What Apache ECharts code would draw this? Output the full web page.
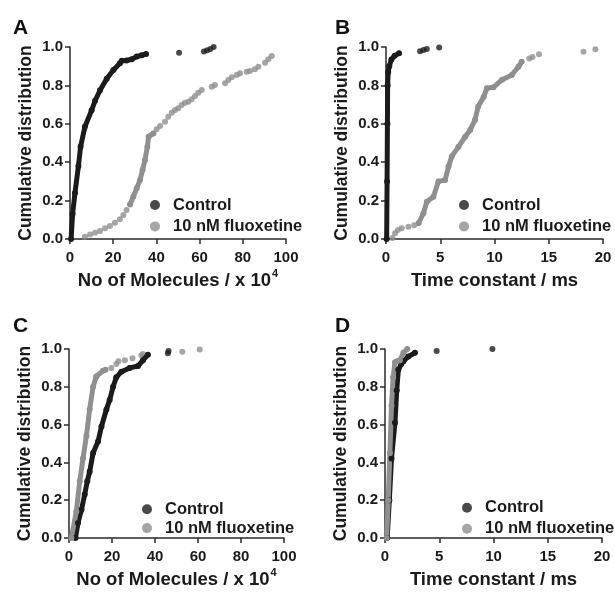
<!DOCTYPE html>
<html>
<head>
<meta charset="utf-8">
<script src="https://cdn.jsdelivr.net/npm/echarts@6/dist/echarts.min.js"></script>
<style>
  html, body { margin: 0; padding: 0; background: #fff; }
  #chart { width: 615px; height: 594px; }
</style>
</head>
<body>
<div id="chart"></div>
<script>
// tick labels
var yTicks = [0, 0.2, 0.4, 0.6, 0.8, 1.0];
var xTicksMolecules = [0, 20, 40, 60, 80, 100];
var xTicksTime = [0, 5, 10, 15, 20];

// A: No of molecules (x 10^4) vs cumulative fraction
var aControlCurve = [[0.5, 0], [1.2, 0.13], [2.3, 0.24], [3.9, 0.38], [4.9, 0.48], [6.9, 0.585], [10, 0.67], [11.6, 0.72], [13.9, 0.775], [17, 0.835], [20.1, 0.88], [23.1, 0.915], [24, 0.928], [26.2, 0.93], [28.6, 0.936], [30.9, 0.95], [33.2, 0.957], [35.2, 0.963]];
var aControlDots = [[50.5, 0.97], [62, 0.976], [63.5, 0.983], [65, 0.99], [66.5, 1.0]];
var aFluoxCurve = [[27.8, 0.18], [29.3, 0.22], [30.9, 0.264], [32.4, 0.307], [33.6, 0.36], [34.7, 0.41], [35.8, 0.48], [36.4, 0.533], [38.6, 0.55]];
var aFluoxDots = [[6.9, 0.012], [9.3, 0.024], [11.6, 0.033], [13.9, 0.042], [16.2, 0.056], [18.5, 0.068], [20.8, 0.085], [23.1, 0.103], [24.7, 0.125], [26.2, 0.151],
  [40.1, 0.571], [41.7, 0.589], [44, 0.611], [45.5, 0.637], [47.1, 0.658], [48.6, 0.672], [50.1, 0.681], [51.7, 0.698], [53.2, 0.71], [54.8, 0.715], [56.3, 0.728], [57.9, 0.745], [59.4, 0.762], [61, 0.776],
  [65.6, 0.793], [67.1, 0.802], [71.8, 0.811], [73.3, 0.828], [74.9, 0.842], [77.2, 0.854], [78.7, 0.863], [81.8, 0.871], [83.3, 0.875], [85.6, 0.884], [87.2, 0.897], [90.3, 0.918], [91.8, 0.936], [93.4, 0.953]];

// B: time constant (ms)
var bControlCurve = [[0.06, 0], [0.1, 0.3], [0.13, 0.6], [0.15, 0.8], [0.2, 0.87], [0.3, 0.9], [0.5, 0.935], [0.8, 0.955], [1.2, 0.967]];
var bControlDots = [[3.14, 0.978], [3.45, 0.985], [3.76, 0.99], [4.9, 0.998]];
var bFluoxCurve = [[3.0, 0.082], [3.45, 0.134], [3.76, 0.194], [4.37, 0.22], [4.83, 0.3], [5.45, 0.307], [5.76, 0.377], [6.06, 0.43], [6.68, 0.48], [7.3, 0.533], [7.76, 0.568], [8.2, 0.62], [8.5, 0.69], [9.0, 0.74], [9.3, 0.785], [9.9, 0.79], [10.7, 0.83], [11.6, 0.854], [12.2, 0.897], [12.5, 0.923]];
var bFluoxDots = [[0.6, 0.005], [0.83, 0.03], [1.1, 0.047], [1.45, 0.056], [2.06, 0.064], [2.6, 0.072], [13.2, 0.94], [13.5, 0.948], [14.1, 0.962], [18.2, 0.975], [19.3, 0.988]];

// C: No of molecules (x 10^4), second set
var cControlCurve = [[3.0, 0], [4.2, 0.08], [5.8, 0.15], [7.3, 0.23], [8.5, 0.3], [9.6, 0.35], [11.2, 0.45], [13.5, 0.51], [15.1, 0.59], [17.4, 0.68], [18.9, 0.73], [20.5, 0.8], [22, 0.85], [24.4, 0.88], [28.2, 0.9], [32.1, 0.91], [34.4, 0.94], [36.7, 0.97]];
var cControlDots = [[46, 0.978], [46.3, 0.99]];
var cFluoxCurve = [[1.1, 0], [3.4, 0.14], [5, 0.3], [6.5, 0.42], [8.1, 0.54], [9.6, 0.68], [11.2, 0.8], [12.7, 0.855], [15.8, 0.885], [17, 0.89]];
var cFluoxDots = [[19.7, 0.9], [22, 0.92], [23, 0.935], [26, 0.94], [29.5, 0.951], [33.7, 0.965], [34.3, 0.974], [52.7, 0.986], [60.8, 0.998]];

// D: time constant (ms), second set
var dControlCurve = [[0.2, 0], [0.4, 0.2], [0.6, 0.42], [0.92, 0.61], [1.08, 0.78], [1.23, 0.89], [1.5, 0.92], [1.7, 0.935], [2.15, 0.96], [2.76, 0.98]];
var dControlDots = [[4.76, 0.99], [9.9, 1.0]];
var dFluoxCurve = [[0.15, 0], [0.3, 0.2], [0.45, 0.45], [0.6, 0.7], [0.75, 0.85], [0.92, 0.93], [1.1, 0.935], [1.38, 0.94], [1.7, 0.98], [2.05, 1.0]];
var dFluoxDots = [];

var seriesNames = ["Control", "10 nM fluoxetine"];
var colors = ["#1b1b1b", "#8f8f8f"];
var fontFam = "Liberation Sans, Arial, sans-serif";

var panels = [
  { letter: "A", letterPos: [13, 18], grid: { left: 70, top: 47, width: 216, height: 192 }, ticks: xTicksMolecules, xName: "No of Molecules / x 10{sup|4}",
    data: [aControlDots, aControlCurve, aFluoxDots, aFluoxCurve], legend: { left: 150, top: 196.5, gap: 4.4 } },
  { letter: "B", letterPos: [335, 18], grid: { left: 386, top: 47, width: 217, height: 192 }, ticks: xTicksTime, xName: "Time constant / ms",
    data: [bControlDots, bControlCurve, bFluoxDots, bFluoxCurve], legend: { left: 459, top: 196.5, gap: 4.4 } },
  { letter: "C", letterPos: [13, 316], grid: { left: 69, top: 349, width: 215, height: 191 }, ticks: xTicksMolecules, xName: "No of Molecules / x 10{sup|4}",
    data: [cControlDots, cControlCurve, cFluoxDots, cFluoxCurve], legend: { left: 142, top: 500.8, gap: 1.8 } },
  { letter: "D", letterPos: [335, 316], grid: { left: 385, top: 349, width: 217, height: 191 }, ticks: xTicksTime, xName: "Time constant / ms",
    data: [dControlDots, dControlCurve, dFluoxDots, dFluoxCurve], legend: { left: 462, top: 499.2, gap: 4 } }
];

var axisLine = { show: true, lineStyle: { color: "#2a2a2a", width: 1.5 } };
var axisTick = { show: true, inside: false, length: 5, lineStyle: { color: "#2a2a2a", width: 1.5 } };

var option = {
  animation: false,
  backgroundColor: "#fff",
  textStyle: { fontFamily: fontFam },
  title: [],
  grid: [],
  xAxis: [],
  yAxis: [],
  legend: [],
  series: []
};

panels.forEach(function(p, i) {
  option.title.push({
    text: p.letter,
    left: p.letterPos[0],
    top: p.letterPos[1],
    padding: 0,
    textStyle: { fontFamily: fontFam, fontSize: 21, fontWeight: "bold", color: "#111" }
  });
  option.grid.push(p.grid);
  var t = p.ticks;
  option.xAxis.push({
    gridIndex: i,
    type: "value",
    min: t[0],
    max: t[t.length - 1],
    interval: t[1] - t[0],
    splitLine: { show: false },
    axisLine: axisLine,
    axisTick: axisTick,
    axisLabel: { color: "#1a1a1a", fontSize: 15, fontWeight: "bold", fontFamily: fontFam, margin: 11, showMinLabel: true, showMaxLabel: true },
    name: p.xName,
    nameLocation: "middle",
    nameGap: 29,
    nameTextStyle: {
      color: "#1a1a1a", fontSize: 18.5, fontWeight: "bold", fontFamily: fontFam, lineHeight: 26,
      rich: { sup: { fontSize: 11, fontWeight: "bold", fontFamily: fontFam, color: "#1a1a1a", verticalAlign: "top", lineHeight: 11, padding: [0, 0, 0, 1] } }
    }
  });
  option.yAxis.push({
    gridIndex: i,
    type: "value",
    min: yTicks[0],
    max: yTicks[yTicks.length - 1],
    interval: yTicks[1] - yTicks[0],
    splitLine: { show: false },
    axisLine: axisLine,
    axisTick: axisTick,
    axisLabel: {
      color: "#1a1a1a", fontSize: 15, fontWeight: "bold", fontFamily: fontFam, margin: 7,
      formatter: function(v) { return v.toFixed(1); }
    },
    name: "Cumulative distribution",
    nameLocation: "middle",
    nameGap: 35,
    nameTextStyle: { color: "#1a1a1a", fontSize: 17.5, fontWeight: "bold", fontFamily: fontFam }
  });
  option.legend.push({
    orient: "vertical",
    left: p.legend.left,
    top: p.legend.top,
    padding: 0,
    itemWidth: 26,
    itemHeight: 10,
    itemGap: p.legend.gap,
    selectedMode: false,
    textStyle: { color: "#1a1a1a", fontSize: 16.5, fontWeight: "bold", fontFamily: fontFam, lineHeight: 15 },
    data: [{ name: seriesNames[0], icon: "circle" }, { name: seriesNames[1], icon: "circle" }]
  });
  // 0: control dots, 1: control curve, 2: fluoxetine dots, 3: fluoxetine curve
  p.data.forEach(function(arr, k) {
    var s = k < 2 ? 0 : 1;
    if (k % 2 === 0) {
      option.series.push({
        name: seriesNames[s],
        type: "scatter",
        xAxisIndex: i,
        yAxisIndex: i,
        symbol: "circle",
        symbolSize: 6,
        itemStyle: { color: colors[s] },
        data: arr
      });
    } else {
      option.series.push({
        name: seriesNames[s],
        type: "line",
        xAxisIndex: i,
        yAxisIndex: i,
        symbol: "circle",
        symbolSize: 6,
        showSymbol: true,
        itemStyle: { color: colors[s] },
        lineStyle: { color: colors[s], width: 5, cap: "round", join: "round" },
        data: arr
      });
    }
  });
});

var myChart = echarts.init(document.getElementById("chart"));
myChart.setOption(option);
</script>
</body>
</html>
